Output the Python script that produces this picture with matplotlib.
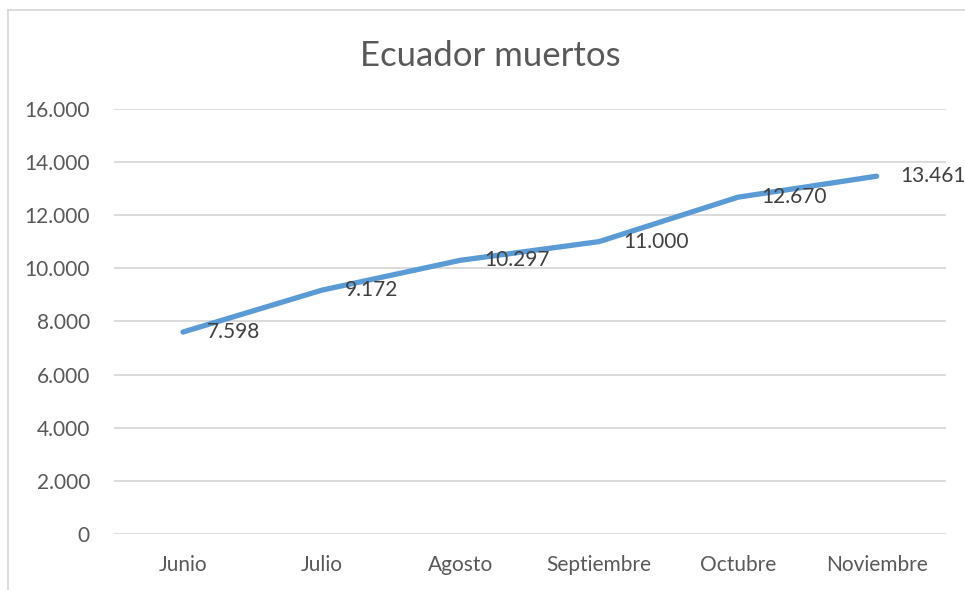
import matplotlib
matplotlib.use('Agg')
import matplotlib.pyplot as plt
from matplotlib.lines import Line2D
from matplotlib.ticker import FuncFormatter

months = ['Junio', 'Julio', 'Agosto', 'Septiembre', 'Octubre', 'Noviembre']
deaths = [7598, 9172, 10297, 11000, 12670, 13461]
yticks = [0, 2000, 4000, 6000, 8000, 10000, 12000, 14000, 16000]

plt.rcParams['font.family'] = ['Lato', 'DejaVu Sans']

def fmt(v):
    return '{:,.0f}'.format(v).replace(',', '.')

W, H = 965, 590
fig = plt.figure(figsize=(W / 100, H / 100), dpi=100)
ax = fig.add_axes([113.6 / W, 1 - 534 / H, (946 - 113.6) / W, (534 - 108.7) / H])

x = list(range(len(months)))
ax.plot(x, deaths, color='#5B9BD5', lw=3.8, solid_capstyle='round', zorder=3)
for xi, v in zip(x, deaths):
    ax.annotate(fmt(v), (xi, v), xytext=(17, 0), textcoords='offset points',
                ha='left', va='center', fontsize=15, color='#404040', zorder=4)

ax.set_xlim(-0.5, len(months) - 0.5)
ax.set_ylim(0, 16000)
ax.set_yticks(yticks)
ax.yaxis.set_major_formatter(FuncFormatter(lambda v, p: fmt(v)))
ax.set_xticks(x)
ax.set_xticklabels(months)
ax.tick_params(axis='both', length=0, labelsize=15, labelcolor='#595959')
ax.tick_params(axis='x', pad=15)
ax.tick_params(axis='y', pad=17)
ax.grid(axis='y', color='#D9D9D9', lw=1.3)
ax.set_axisbelow(True)
for s in ax.spines.values():
    s.set_visible(False)

fig.text(490 / W, 1 - 56 / H, 'Ecuador muertos', ha='center', va='center',
         fontsize=25, color='#595959')

# chart border (cropped at right and bottom)
fig.add_artist(Line2D([7.5 / W, 7.5 / W], [1 - 10 / H, 0], transform=fig.transFigure,
                      color='#D9D9D9', lw=1.3))
fig.add_artist(Line2D([7.5 / W, 1], [1 - 10 / H, 1 - 10 / H], transform=fig.transFigure,
                      color='#D9D9D9', lw=1.3))

fig.savefig('out.png', dpi=100)
